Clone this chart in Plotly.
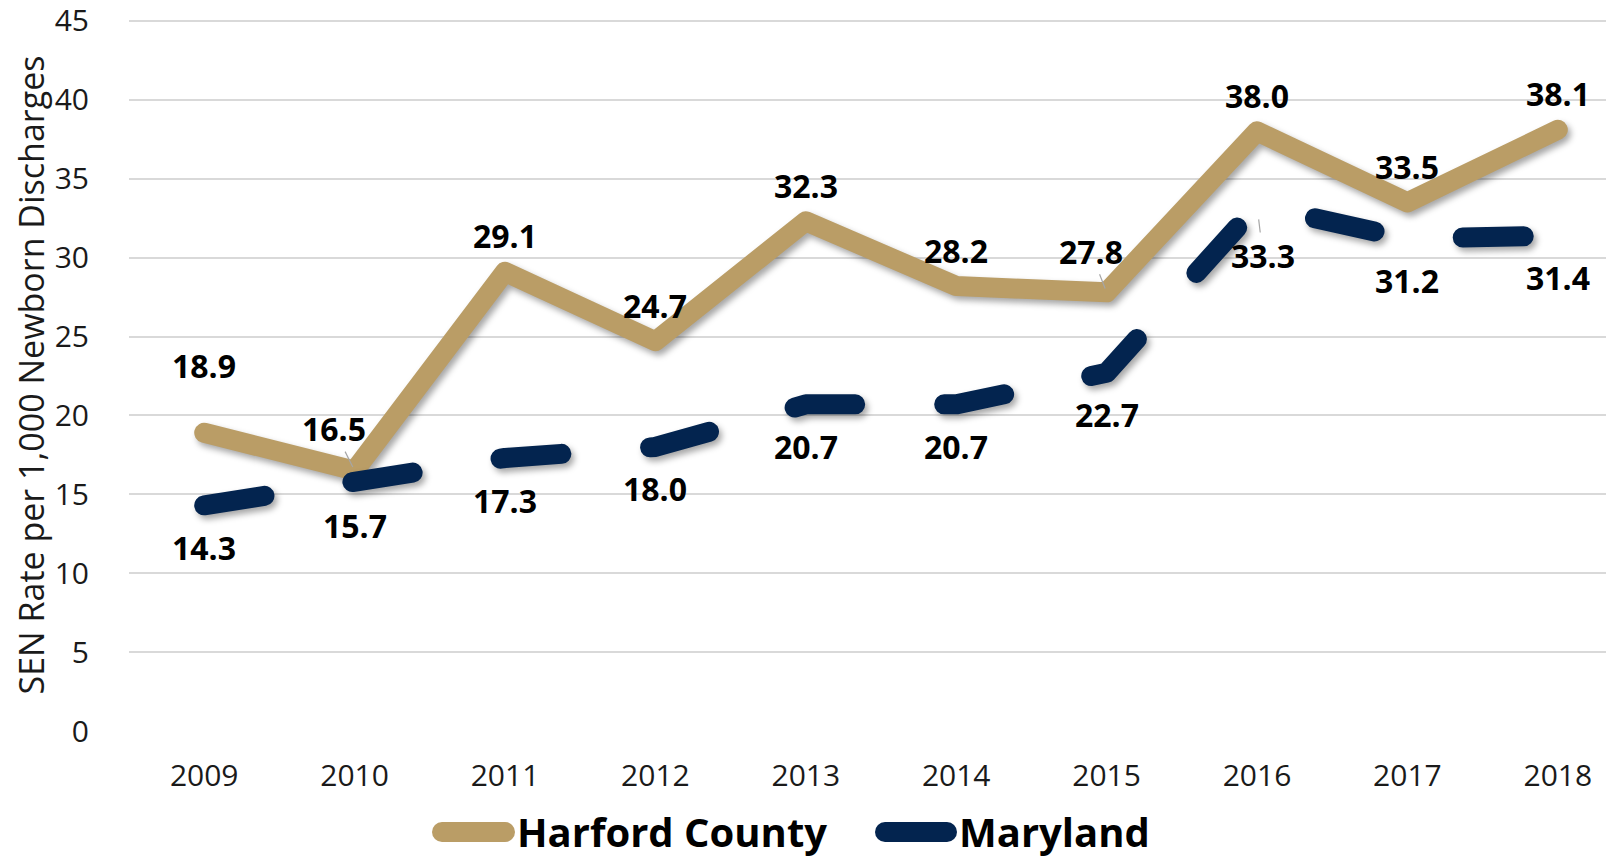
import plotly.graph_objects as go

years = ["2009", "2010", "2011", "2012", "2013", "2014", "2015", "2016", "2017", "2018"]
harford = [18.9, 16.5, 29.1, 24.7, 32.3, 28.2, 27.8, 38.0, 33.5, 38.1]
maryland = [14.3, 15.7, 17.3, 18.0, 20.7, 20.7, 22.7, 33.3, 31.2, 31.4]
y_ticks = [0, 5, 10, 15, 20, 25, 30, 35, 40, 45]

TAN = "#BA9D66"
NAVY = "#03244F"
W, H = 1614, 856
UNIT = 710 / 45          # pixels per y unit
Y_TOP = 45.12            # small headroom so the 45 gridline is drawn
BOTTOM_PX = 723
L, R = 121, 0
T = BOTTOM_PX - Y_TOP * UNIT
PH = BOTTOM_PX - T
B = H - BOTTOM_PX
PW = W - L - R
SLOT = 150.4

xs = list(range(len(years)))

fig = go.Figure()
fig.add_trace(go.Scatter(x=xs, y=harford, mode="lines", name="Harford County",
                         line=dict(color=TAN, width=20), showlegend=False, hoverinfo="skip"))
fig.add_trace(go.Scatter(x=xs, y=maryland, mode="lines", name="Maryland",
                         line=dict(color=NAVY, width=20, dash="61px,89px"), showlegend=False,
                         hoverinfo="skip"))

# label offsets (pixels): default above for Harford, below for Maryland
h_off = {0: (0, -67), 1: (-21, -42), 6: (-16, -41)}
m_off = {7: (6, 50)}
h_leader = {1, 6}
m_leader = {7}

lab_font = dict(family="Open Sans", size=32, color="#000000")
for i, v in enumerate(harford):
    dx, dy = h_off.get(i, (0, -36))
    fig.add_annotation(x=xs[i], y=v, text=f"<b>{v:.1f}</b>", showarrow=True, ax=dx, ay=dy,
                       arrowhead=0, arrowwidth=1.2, standoff=4,
                       arrowcolor="#A6A6A6" if i in h_leader else "rgba(0,0,0,0)",
                       xanchor="center", yanchor="middle", font=lab_font)
for i, v in enumerate(maryland):
    dx, dy = m_off.get(i, (0, 42))
    fig.add_annotation(x=xs[i], y=v, text=f"<b>{v:.1f}</b>", showarrow=True, ax=dx, ay=dy,
                       arrowhead=0, arrowwidth=1.2, standoff=14,
                       arrowcolor="#A6A6A6" if i in m_leader else "rgba(0,0,0,0)",
                       xanchor="center", yanchor="middle", font=lab_font)

def px(x):
    return (x - L) / PW

def py(y):
    return (BOTTOM_PX - y) / PH

# custom legend (figure pixel coordinates)
leg_y = 824
for (x0, x1, col, tx, name) in [(434, 497, TAN, 507, "Harford County"),
                                (877, 939, NAVY, 949, "Maryland")]:
    fig.add_shape(type="line", xref="paper", yref="paper", x0=px(x0), x1=px(x1),
                  y0=py(leg_y), y1=py(leg_y), line=dict(color=col, width=20))
    fig.add_annotation(xref="paper", yref="paper", x=px(tx), y=py(leg_y - 1), text=f"<b>{name}</b>",
                       showarrow=False, xanchor="left", yanchor="middle",
                       font=dict(family="Open Sans", size=40, color="#000000"))

fig.update_layout(
    width=W, height=H,
    margin=dict(l=L, r=R, t=T, b=B, pad=0, autoexpand=False),
    paper_bgcolor="white", plot_bgcolor="white",
    showlegend=False,
    font=dict(family="Open Sans", color="#1a1a1a"),
    xaxis=dict(range=[-0.5, -0.5 + PW / SLOT], tickvals=xs, ticktext=years,
               showgrid=False, zeroline=False, showline=False, automargin=False,
               ticks="outside", ticklen=18, tickcolor="rgba(0,0,0,0)",
               tickfont=dict(size=30, family="Open Sans", color="#1a1a1a")),
    yaxis=dict(range=[0, Y_TOP], tickvals=y_ticks, showgrid=True, gridcolor="#D9D9D9", gridwidth=1.5,
               zeroline=False, showline=False, ticklabeloverflow="allow", automargin=False,
               ticks="outside", ticklen=33, tickcolor="rgba(0,0,0,0)",
               tickfont=dict(size=30, family="Open Sans", color="#1a1a1a"),
               title=dict(text="SEN Rate per 1,000 Newborn Discharges", standoff=10,
                          font=dict(size=34, family="Open Sans", color="#1a1a1a"))),
)

post = """
var s=document.createElement('style');
s.innerHTML='.scatterlayer .js-line{stroke-linecap:round !important;stroke-linejoin:round !important;}'+
 '.scatterlayer .trace{filter:drop-shadow(3px 4px 3px rgba(0,0,0,0.35));}'+
 '.shapelayer path{stroke-linecap:round !important;}';
document.head.appendChild(s);
"""
fig.write_html("out.html", post_script=post)
